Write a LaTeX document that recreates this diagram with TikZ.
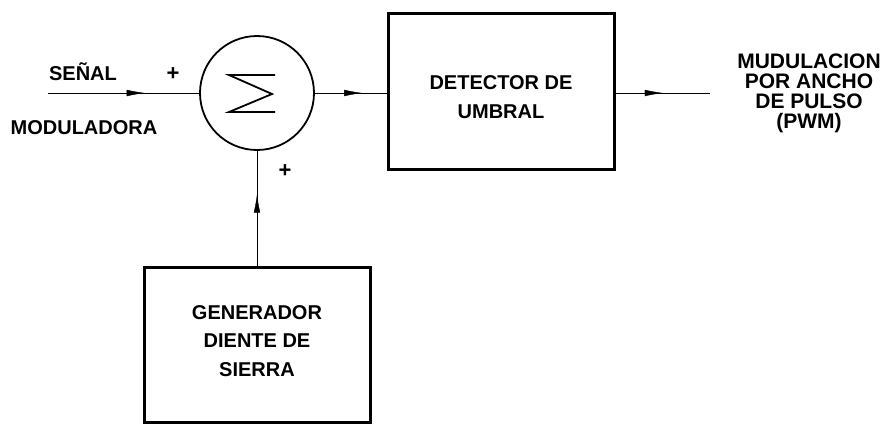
\documentclass[tikz,border=0pt]{standalone}
\usepackage{fontspec}
\setmainfont{Liberation Sans}
\usetikzlibrary{arrows.meta,positioning,decorations.markings}
\definecolor{ink}{HTML}{000000}
\tikzset{>=Latex,line width=1.8pt,
  every node/.style={font=\fontsize{20}{28.5}\selectfont\bfseries,text=ink},
  block/.style={draw=ink,line width=3pt,minimum width=226pt,inner sep=0pt},
  blocktext/.style={align=center,inner sep=0pt},
  sumnode/.style={circle,draw=ink,line width=1.8pt,minimum size=114pt,inner sep=0pt},
  sign/.style={font=\fontsize{22}{22}\selectfont\bfseries},
  flow/.style={draw=ink,postaction={decorate},
    decoration={markings,mark=at position #1 with {\arrow{Latex[length=18pt,width=6.5pt]}}}},
  flow/.default=.5}

\begin{document}
\begin{tikzpicture}[x=1pt,y=-1pt]
\useasboundingbox (0,0) rectangle (885,426);
\node[sumnode] (sum) at (257,93) {};
\draw[ink,line width=1.8pt] ([shift={(18,-18)}]sum.center)--([shift={(-28,-18)}]sum.center)
  --([shift={(15,1)}]sum.center)--([shift={(-28,19)}]sum.center)--([shift={(18,19)}]sum.center);
\node[block,minimum height=156pt] (det) at (501,91) {};
\node[blocktext] (dettext) at ([yshift=-6pt]det.center) {DETECTOR DE\\UMBRAL};
\node[block,minimum height=155pt] (gen) at (257,345) {};
\node[blocktext] (gentext) at ([yshift=4pt]gen.center) {GENERADOR\\DIENTE DE\\SIERRA};
\coordinate (in) at (48,93);
\coordinate (out) at (710,93);
\draw[flow=.64] (in)--(sum.west);
\draw[flow=.66] (sum.east)--(sum.east-|det.west);
\draw[flow=.5] (sum.east-|det.east)--(out);
\draw[flow=.62] (gen.north)--(sum.south);
\node (senal) at (83,72) {SEÑAL};
\node (modul) at (84,128) {MODULADORA};
\node[sign] (plusa) at (173,74) {+};
\node[sign] (plusb) at (285,171) {+};
\node[align=center,font=\fontsize{21}{20}\selectfont\bfseries] (pwm) at (809,93)
  {MUDULACION\\POR ANCHO\\DE PULSO\\(PWM)};
\end{tikzpicture}
\end{document}
